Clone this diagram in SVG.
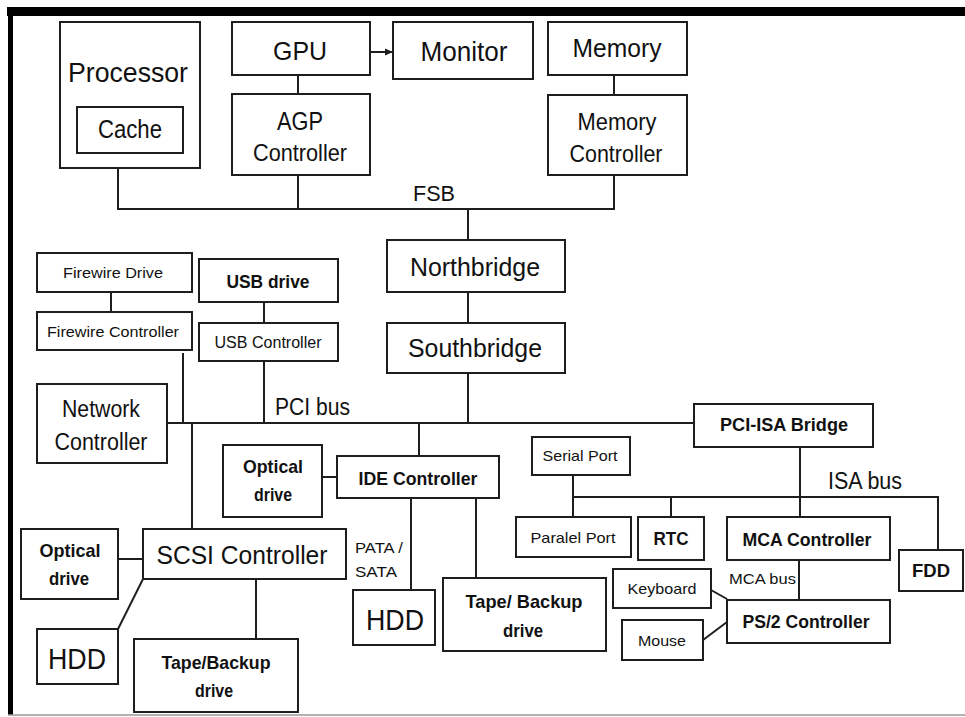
<svg xmlns="http://www.w3.org/2000/svg" width="965" height="717" viewBox="0 0 965 717">
<style>
.box{fill:#fff;stroke:#1e1e1e;stroke-width:2}
.ln{stroke:#1e1e1e;stroke-width:2;fill:none}
text{font-family:"Liberation Sans",Arial,sans-serif;fill:#111;text-anchor:middle}
.b{font-weight:bold}
.s{text-anchor:start}
</style>
<defs>
<marker id="arr" markerWidth="8" markerHeight="8" refX="7" refY="4" orient="auto" markerUnits="userSpaceOnUse">
<path d="M0,0.5 L8,4 L0,7.5 Z" fill="#1e1e1e"/>
</marker>
</defs>
<rect width="965" height="717" fill="#fff"/>
<g id="frame">
<rect x="7" y="7" width="958" height="9" fill="#000"/>
<rect x="8" y="7" width="5" height="708" fill="#000"/>
<line x1="8" y1="715" x2="965" y2="715" stroke="#999" stroke-width="1.5"/>
</g>
<g id="connectors">
<line class="ln" x1="298" y1="75" x2="298" y2="94"/>
<line class="ln" x1="614" y1="75" x2="614" y2="95"/>
<polyline class="ln" points="118,168 118,209 614,209 614,175"/>
<line class="ln" x1="298" y1="175" x2="298" y2="209"/>
<line class="ln" x1="468" y1="209" x2="468" y2="240"/>
<line class="ln" x1="370" y1="52" x2="392" y2="52" marker-end="url(#arr)"/>
<line class="ln" x1="468" y1="292" x2="468" y2="323"/>
<line class="ln" x1="468" y1="373" x2="468" y2="423"/>
<line class="ln" x1="167" y1="423" x2="694" y2="423"/>
<line class="ln" x1="111" y1="292" x2="111" y2="312"/>
<line class="ln" x1="183" y1="353" x2="183" y2="423"/>
<line class="ln" x1="264" y1="302" x2="264" y2="323"/>
<line class="ln" x1="264" y1="361" x2="264" y2="423"/>
<line class="ln" x1="192" y1="423" x2="192" y2="529"/>
<line class="ln" x1="419" y1="423" x2="419" y2="456"/>
<line class="ln" x1="322" y1="477" x2="337" y2="477"/>
<line class="ln" x1="411" y1="498" x2="411" y2="590"/>
<line class="ln" x1="476" y1="498" x2="476" y2="578"/>
<line class="ln" x1="118" y1="559" x2="143" y2="559"/>
<line class="ln" x1="143" y1="579" x2="118" y2="629"/>
<line class="ln" x1="256" y1="579" x2="256" y2="639"/>
<line class="ln" x1="800" y1="447" x2="800" y2="517"/>
<polyline class="ln" points="573,497 938,497 938,550"/>
<line class="ln" x1="573" y1="475" x2="573" y2="517"/>
<line class="ln" x1="671" y1="497" x2="671" y2="517"/>
<line class="ln" x1="799" y1="560" x2="799" y2="600"/>
<line class="ln" x1="711" y1="590" x2="727" y2="599"/>
<line class="ln" x1="703" y1="640" x2="727" y2="622"/>
</g>
<g id="processor"><rect class="box" x="60" y="22" width="140" height="146"/><text x="128" y="82" font-size="28" textLength="120" lengthAdjust="spacingAndGlyphs">Processor</text></g>
<g id="cache"><rect class="box" x="77" y="107" width="106" height="46"/><text x="130" y="138" font-size="25" textLength="64" lengthAdjust="spacingAndGlyphs">Cache</text></g>
<g id="gpu"><rect class="box" x="232" y="22" width="138" height="53"/><text x="300" y="60" font-size="26" textLength="54" lengthAdjust="spacingAndGlyphs">GPU</text></g>
<g id="monitor"><rect class="box" x="393" y="22" width="140" height="57"/><text x="464" y="61" font-size="27" textLength="87" lengthAdjust="spacingAndGlyphs">Monitor</text></g>
<g id="memory"><rect class="box" x="548" y="22" width="139" height="53"/><text x="617" y="57" font-size="26" textLength="89" lengthAdjust="spacingAndGlyphs">Memory</text></g>
<g id="agp"><rect class="box" x="232" y="94" width="138" height="81"/><text x="300" y="130" font-size="25" textLength="46" lengthAdjust="spacingAndGlyphs">AGP</text><text x="300" y="161" font-size="24" textLength="94" lengthAdjust="spacingAndGlyphs">Controller</text></g>
<g id="memctl"><rect class="box" x="548" y="95" width="139" height="80"/><text x="617" y="130" font-size="24" textLength="79" lengthAdjust="spacingAndGlyphs">Memory</text><text x="616" y="162" font-size="24" textLength="93" lengthAdjust="spacingAndGlyphs">Controller</text></g>
<g id="fsb-label"><text x="434" y="201" font-size="22" textLength="42" lengthAdjust="spacingAndGlyphs">FSB</text></g>
<g id="northbridge"><rect class="box" x="387" y="240" width="178" height="52"/><text x="475" y="276" font-size="26" textLength="130" lengthAdjust="spacingAndGlyphs">Northbridge</text></g>
<g id="southbridge"><rect class="box" x="387" y="323" width="178" height="50"/><text x="475" y="357" font-size="26" textLength="134" lengthAdjust="spacingAndGlyphs">Southbridge</text></g>
<g id="firewire-drive"><rect class="box" x="37" y="253" width="155" height="39"/><text x="113" y="278" font-size="15" textLength="100" lengthAdjust="spacingAndGlyphs">Firewire Drive</text></g>
<g id="firewire-ctl"><rect class="box" x="37" y="312" width="155" height="38"/><text x="113" y="337" font-size="15" textLength="132" lengthAdjust="spacingAndGlyphs">Firewire Controller</text></g>
<g id="usb-drive"><rect class="box" x="199" y="259" width="139" height="43"/><text class="b" x="268" y="288" font-size="18" textLength="83" lengthAdjust="spacingAndGlyphs">USB drive</text></g>
<g id="usb-ctl"><rect class="box" x="199" y="323" width="139" height="38"/><text x="268" y="348" font-size="16" textLength="107" lengthAdjust="spacingAndGlyphs">USB Controller</text></g>
<g id="pci-label"><text class="s" x="275" y="415" font-size="23" textLength="75" lengthAdjust="spacingAndGlyphs">PCI bus</text></g>
<g id="network"><rect class="box" x="37" y="384" width="130" height="79"/><text x="101" y="417" font-size="23" textLength="78" lengthAdjust="spacingAndGlyphs">Network</text><text x="101" y="450" font-size="23" textLength="93" lengthAdjust="spacingAndGlyphs">Controller</text></g>
<g id="optical1"><rect class="box" x="223" y="445" width="99" height="72"/><text class="b" x="273" y="473" font-size="19" textLength="60" lengthAdjust="spacingAndGlyphs">Optical</text><text class="b" x="273" y="501" font-size="19" textLength="38" lengthAdjust="spacingAndGlyphs">drive</text></g>
<g id="ide"><rect class="box" x="337" y="456" width="162" height="42"/><text class="b" x="418" y="485" font-size="19" textLength="119" lengthAdjust="spacingAndGlyphs">IDE Controller</text></g>
<g id="pata-label"><text class="s" x="355" y="553" font-size="15" textLength="48" lengthAdjust="spacingAndGlyphs">PATA /</text><text class="s" x="355" y="577" font-size="15" textLength="42" lengthAdjust="spacingAndGlyphs">SATA</text></g>
<g id="hdd1"><rect class="box" x="353" y="590" width="82" height="55"/><text x="395" y="630" font-size="29" textLength="58" lengthAdjust="spacingAndGlyphs">HDD</text></g>
<g id="tape1"><rect class="box" x="443" y="578" width="163" height="73"/><text class="b" x="524" y="608" font-size="19" textLength="117" lengthAdjust="spacingAndGlyphs">Tape/ Backup</text><text class="b" x="523" y="637" font-size="19" textLength="40" lengthAdjust="spacingAndGlyphs">drive</text></g>
<g id="scsi"><rect class="box" x="143" y="529" width="203" height="50"/><text x="242" y="564" font-size="26" textLength="171" lengthAdjust="spacingAndGlyphs">SCSI Controller</text></g>
<g id="optical2"><rect class="box" x="21" y="529" width="97" height="70"/><text class="b" x="70" y="557" font-size="19" textLength="61" lengthAdjust="spacingAndGlyphs">Optical</text><text class="b" x="69" y="585" font-size="19" textLength="40" lengthAdjust="spacingAndGlyphs">drive</text></g>
<g id="hdd2"><rect class="box" x="37" y="629" width="81" height="55"/><text x="77" y="669" font-size="29" textLength="58" lengthAdjust="spacingAndGlyphs">HDD</text></g>
<g id="tape2"><rect class="box" x="134" y="639" width="164" height="73"/><text class="b" x="216" y="669" font-size="19" textLength="109" lengthAdjust="spacingAndGlyphs">Tape/Backup</text><text class="b" x="214" y="697" font-size="19" textLength="38" lengthAdjust="spacingAndGlyphs">drive</text></g>
<g id="pci-isa"><rect class="box" x="694" y="404" width="179" height="43"/><text class="b" x="784" y="431" font-size="19" textLength="128" lengthAdjust="spacingAndGlyphs">PCI-ISA Bridge</text></g>
<g id="serial"><rect class="box" x="532" y="437" width="98" height="38"/><text x="580" y="461" font-size="15" textLength="75" lengthAdjust="spacingAndGlyphs">Serial Port</text></g>
<g id="isa-label"><text class="s" x="828" y="489" font-size="23" textLength="74" lengthAdjust="spacingAndGlyphs">ISA bus</text></g>
<g id="parallel"><rect class="box" x="516" y="517" width="115" height="40"/><text x="573" y="543" font-size="15" textLength="85" lengthAdjust="spacingAndGlyphs">Paralel Port</text></g>
<g id="rtc"><rect class="box" x="638" y="517" width="66" height="43"/><text class="b" x="671" y="545" font-size="19" textLength="35" lengthAdjust="spacingAndGlyphs">RTC</text></g>
<g id="mca"><rect class="box" x="727" y="517" width="163" height="43"/><text class="b" x="807" y="546" font-size="19" textLength="129" lengthAdjust="spacingAndGlyphs">MCA Controller</text></g>
<g id="fdd"><rect class="box" x="899" y="550" width="64" height="41"/><text class="b" x="931" y="577" font-size="19" textLength="38" lengthAdjust="spacingAndGlyphs">FDD</text></g>
<g id="mca-label"><text class="s" x="729" y="584" font-size="15" textLength="67" lengthAdjust="spacingAndGlyphs">MCA bus</text></g>
<g id="ps2"><rect class="box" x="727" y="600" width="163" height="43"/><text class="b" x="806" y="628" font-size="19" textLength="127" lengthAdjust="spacingAndGlyphs">PS/2 Controller</text></g>
<g id="keyboard"><rect class="box" x="613" y="569" width="98" height="39"/><text x="662" y="594" font-size="15" textLength="69" lengthAdjust="spacingAndGlyphs">Keyboard</text></g>
<g id="mouse"><rect class="box" x="622" y="620" width="81" height="40"/><text x="662" y="646" font-size="15" textLength="48" lengthAdjust="spacingAndGlyphs">Mouse</text></g>
</svg>
